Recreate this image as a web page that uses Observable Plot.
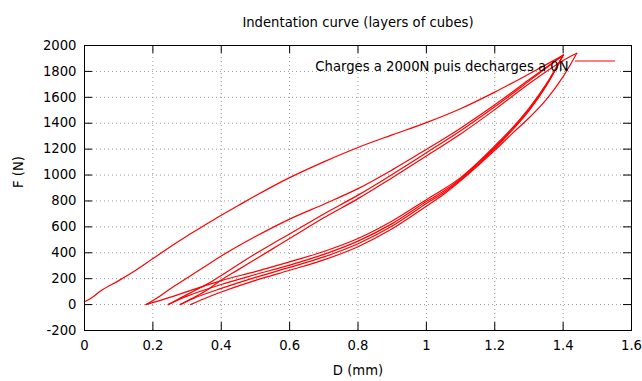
<!DOCTYPE html>
<html><head><meta charset="utf-8">
<script src="https://cdn.jsdelivr.net/npm/d3@7"></script>
<script src="https://cdn.jsdelivr.net/npm/@observablehq/plot@0.6"></script>
<style>body{margin:0;background:#fff} svg{display:block}</style>
</head><body><div id="chart"></div>
<script>
const title = "Indentation curve (layers of cubes)";
const xLabel = "D (mm)";
const yLabel = "F (N)";
const legendLabel = "Charges a 2000N puis decharges a 0N";
const xTicks = [0, 0.2, 0.4, 0.6, 0.8, 1, 1.2, 1.4, 1.6];
const yTicks = [-200, 0, 200, 400, 600, 800, 1000, 1200, 1400, 1600, 1800, 2000];

// [D (mm), F (N)], in recording order
const load1 = [[0,22],[0.02,50],[0.05,110],[0.1,185],[0.15,265],[0.2,355],[0.25,445],[0.3,530],[0.35,610],[0.4,690],[0.45,765],[0.5,840],[0.6,980],[0.7,1102],[0.8,1213],[0.9,1310],[1.0,1405],[1.1,1512],[1.2,1640],[1.3,1780],[1.4,1925]];
const unload1 = [[1.4,1925],[1.35,1700],[1.3,1515],[1.25,1360],[1.2,1225],[1.15,1095],[1.1,980],[1.05,890],[1.0,810],[0.9,645],[0.8,510],[0.7,410],[0.6,330],[0.5,255],[0.4,185],[0.3,100],[0.24,48],[0.18,0]];
const reload1 = [[0.18,0],[0.22,65],[0.25,120],[0.3,205],[0.35,290],[0.4,375],[0.5,525],[0.6,660],[0.7,775],[0.8,895],[0.9,1040],[1.0,1198],[1.1,1362],[1.2,1542],[1.3,1735],[1.4,1925]];
const unload2 = [[1.4,1925],[1.35,1690],[1.3,1505],[1.25,1350],[1.2,1213],[1.15,1088],[1.1,972],[1.05,875],[1.0,795],[0.9,625],[0.8,490],[0.7,388],[0.6,305],[0.5,232],[0.4,155],[0.3,65],[0.245,0]];
const reload2 = [[0.245,0],[0.28,50],[0.32,105],[0.36,160],[0.4,225],[0.45,310],[0.5,392],[0.55,470],[0.6,545],[0.7,700],[0.8,845],[0.9,1005],[1.0,1172],[1.1,1342],[1.2,1527],[1.3,1725],[1.4,1925]];
const unload3 = [[1.4,1925],[1.35,1685],[1.3,1495],[1.25,1343],[1.2,1203],[1.15,1078],[1.1,962],[1.05,862],[1.0,780],[0.9,607],[0.8,470],[0.7,368],[0.6,287],[0.5,210],[0.4,125],[0.32,50],[0.28,0]];
const reload3 = [[0.28,0],[0.32,55],[0.36,115],[0.4,190],[0.45,270],[0.5,350],[0.55,430],[0.6,510],[0.7,670],[0.8,818],[0.9,980],[1.0,1147],[1.1,1317],[1.2,1505],[1.3,1705],[1.4,1885],[1.44,1940]];
const unload4 = [[1.44,1940],[1.4,1760],[1.35,1580],[1.3,1440],[1.25,1318],[1.2,1190],[1.15,1070],[1.1,955],[1.05,850],[1.0,760],[0.9,585],[0.8,447],[0.7,345],[0.6,265],[0.5,187],[0.4,97],[0.35,45],[0.31,0]];

const segments = [load1, unload1, reload1, unload2, reload2, unload3, reload3, unload4];
const data = segments.flatMap((seg, i) => seg.map(([D, F]) => ({D, F, seg: i})));

const W = 642, H = 381, mL = 84, mR = 11, mT = 45, mB = 51;
const fw = W - mL - mR, fh = H - mT - mB, tk = 8;
const font = "'DejaVu Sans', sans-serif";
const fs = 13.2;
const gridStyle = {stroke: "#999", strokeOpacity: 1, strokeWidth: 1, strokeDasharray: "1,3"};
const fmt = d => String(+d.toFixed(1));

const plot = Plot.plot({
  width: W, height: H,
  marginLeft: mL, marginRight: mR, marginTop: mT, marginBottom: mB,
  style: {fontFamily: font, fontSize: fs + "px", background: "#fff", color: "#000"},
  x: {domain: [0, 1.6], label: null},
  y: {domain: [-200, 2000], label: null},
  marks: [
    Plot.gridX(xTicks.slice(1, -1), gridStyle),
    Plot.gridY(yTicks.slice(1, -1), gridStyle),
    Plot.tickX(xTicks, {x: d => d, stroke: "#000", insetTop: fh - tk}),
    Plot.tickX(xTicks, {x: d => d, stroke: "#000", insetBottom: fh - tk}),
    Plot.tickY(yTicks, {y: d => d, stroke: "#000", insetRight: fw - tk}),
    Plot.tickY(yTicks, {y: d => d, stroke: "#000", insetLeft: fw - tk}),
    Plot.axisX({ticks: xTicks, tickSize: 0, tickPadding: 10, tickFormat: fmt, label: null, fontSize: fs}),
    Plot.axisY({ticks: yTicks, tickSize: 0, tickPadding: 8, tickFormat: d => String(d), label: null, fontSize: fs}),
    Plot.line(data, {x: "D", y: "F", z: "seg", stroke: "#ff0000", strokeWidth: 1.2, curve: "catmull-rom"}),
    Plot.frame({stroke: "#000"}),
    Plot.text([title], {frameAnchor: "top", dy: -28, fontSize: fs}),
    Plot.text([xLabel], {frameAnchor: "bottom", dy: 44, fontSize: fs}),
    Plot.text([yLabel], {frameAnchor: "left", dx: -66, rotate: -90, fontSize: fs}),
    Plot.text([legendLabel], {frameAnchor: "top-right", dx: -63, dy: 16, textAnchor: "end", fontSize: fs})
  ]
});
d3.select(plot).append("line")
  .attr("x1", W - mR - 56).attr("x2", W - mR - 16)
  .attr("y1", mT + 16).attr("y2", mT + 16)
  .attr("stroke", "#ff0000").attr("stroke-width", 1.2);
document.getElementById("chart").append(plot);
</script>
</body></html>
